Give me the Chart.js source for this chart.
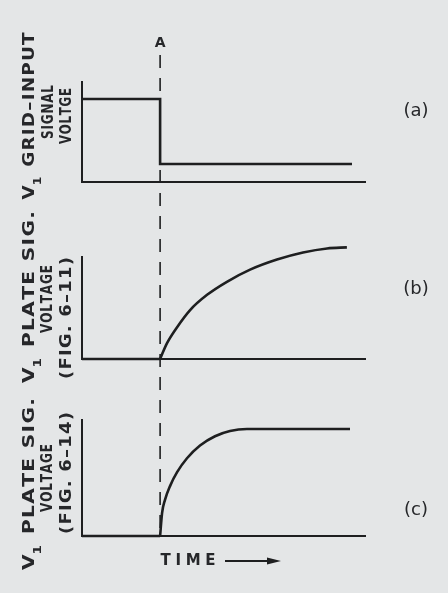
<!DOCTYPE html>
<html><head><meta charset="utf-8">
<script src="https://cdn.jsdelivr.net/npm/chart.js@4"></script>
<style>
html,body{margin:0;padding:0;background:#e4e6e7;width:448px;height:593px;overflow:hidden}
canvas{position:absolute;left:0;top:0}
</style></head><body>
<canvas id="ca" width="448" height="593"></canvas>
<canvas id="cb" width="448" height="593"></canvas>
<canvas id="cc" width="448" height="593"></canvas>
<script>
// ---- data (arbitrary time units 0..10, normalised voltage 0..1) ----
const timeA = 2.76;
const inputTime  = [0, 2.76, 2.76, 9.54];
const inputVolts = [0.83, 0.83, 0.18, 0.18];
const plateBFlatTime  = [0, 2.76];
const plateBFlatVolts = [0, 0];
const plateBTime  = [2.76, 3.0, 3.36, 3.82, 4.42, 5.12, 5.94, 6.89, 7.81, 8.66, 9.36];
const plateBVolts = [0, 0.153, 0.312, 0.48, 0.629, 0.757, 0.876, 0.975, 1.044, 1.084, 1.094];
const plateCFlatTime  = [0, 2.76];
const plateCFlatVolts = [0, 0];
const plateCTime  = [2.76, 2.83, 2.93, 3.11, 3.36, 3.71, 4.17, 4.70, 5.23, 5.83, 9.47];
const plateCVolts = [0, 0.20, 0.31, 0.43, 0.55, 0.67, 0.78, 0.86, 0.905, 0.922, 0.922];

// ---- texts ----
const yLabelsA = ["V\u2081 GRID\u2013INPUT", "SIGNAL", "VOLTGE"];
const yLabelsB = ["V\u2081 PLATE SIG.", "VOLTAGE", "(FIG. 6\u201311)"];
const yLabelsC = ["V\u2081 PLATE SIG.", "VOLTAGE", "(FIG. 6\u201314)"];
const panelTags = ["(a)", "(b)", "(c)"];
const markerLabel = "A";
const xAxisLabel = "TIME";

// ---- style / layout ----
const INK = '#1e1f20';
const TEXT = '#26272a';
const LABEL_FONT = 'bold 15px "DejaVu Sans", sans-serif';
const SUB_FONT = 'bold 10px "DejaVu Sans", sans-serif';
const DASH_TOP = 55, DASH_BOTTOM = 536;

function pts(xs, ys){ return xs.map((x,i)=>({x:x, y:ys[i]})); }

// draws text centred at (cx,cy), fitted to length len; mode 'stretch' scales glyphs, 'space' spreads them
function drawFitted(ctx, text, cx, cy, len, rotate, mode, font){
  ctx.save();
  ctx.translate(cx, cy);
  if (rotate) ctx.rotate(-Math.PI/2);
  ctx.fillStyle = TEXT;
  ctx.textBaseline = 'middle';
  ctx.textAlign = 'left';
  const f = font || LABEL_FONT;
  const chars = [...text];
  const w = chars.map(c => {
    if (c === '\u2081'){ ctx.font = SUB_FONT; return ctx.measureText('1').width; }
    ctx.font = f; return ctx.measureText(c).width;
  });
  const nat = w.reduce((a,b)=>a+b,0);
  const n = chars.length;
  let sp, sx;
  if (mode === 'space'){ sp = (len - nat)/(n-1); sx = 1; }
  else { sp = 1.0; sx = len / (nat + sp*(n-1)); }
  ctx.scale(sx, 1);
  let x = -len/2/sx;
  chars.forEach((c,i)=>{
    if (c === '\u2081'){ ctx.font = SUB_FONT; ctx.fillText('1', x - 1, 8); }
    else { ctx.font = f; ctx.fillText(c, x, 0); }
    x += w[i] + sp;
  });
  ctx.restore();
}

const figurePlugin = {
  id: 'figure',
  beforeDatasetsDraw(chart){
    const o = chart.options.plugins.figure;
    if (!o.marker) return;
    const ctx = chart.ctx;
    const x = chart.scales.x.getPixelForValue(timeA);
    ctx.save();
    ctx.strokeStyle = INK;
    ctx.lineWidth = 1.6;
    ctx.setLineDash([13, 10]);
    ctx.beginPath(); ctx.moveTo(x, DASH_TOP); ctx.lineTo(x, DASH_BOTTOM); ctx.stroke();
    ctx.restore();
  },
  afterDraw(chart){
    const o = chart.options.plugins.figure;
    const ctx = chart.ctx;
    o.labels.forEach((t,i)=>{
      const L = o.layout[i];
      drawFitted(ctx, t, L[0], L[1], L[2], true, 'stretch');
    });
    ctx.save();
    ctx.fillStyle = TEXT;
    ctx.font = '18px "DejaVu Sans", sans-serif';
    ctx.textAlign = 'center'; ctx.textBaseline = 'middle';
    ctx.fillText(o.tag, 416, o.tagY);
    ctx.restore();
    if (o.marker){
      ctx.save();
      ctx.fillStyle = TEXT;
      ctx.font = 'bold 14px "DejaVu Sans", sans-serif';
      ctx.textAlign = 'center'; ctx.textBaseline = 'middle';
      ctx.fillText(markerLabel, chart.scales.x.getPixelForValue(timeA), 43);
      ctx.restore();
    }
    if (o.timeLabel){
      const yy = 561;
      drawFitted(ctx, xAxisLabel, 188, yy, 55, false, 'space', 'bold 15px "DejaVu Sans", sans-serif');
      ctx.save();
      ctx.strokeStyle = INK; ctx.fillStyle = INK; ctx.lineWidth = 1.8;
      ctx.beginPath(); ctx.moveTo(225, yy); ctx.lineTo(270, yy); ctx.stroke();
      ctx.beginPath(); ctx.moveTo(281, yy); ctx.lineTo(267, yy-3.5); ctx.lineTo(267, yy+3.5); ctx.closePath(); ctx.fill();
      ctx.restore();
    }
  }
};

function axisCfg(max){
  return {
    type: 'linear', min: 0, max: max, display: true,
    ticks: {display: false},
    grid: {display: false, drawTicks: false},
    border: {display: true, color: INK, width: 2}
  };
}

function lineDs(data, curved){
  return {
    data: data, borderColor: INK, borderWidth: 2.6, pointRadius: 0,
    tension: curved ? 0.4 : 0, cubicInterpolationMode: curved ? 'monotone' : 'default',
    clip: false, fill: false
  };
}

function makeChart(id, datasets, pad, fig){
  return new Chart(document.getElementById(id), {
    type: 'line',
    data: {datasets: datasets},
    options: {
      responsive: false, animation: false, events: [],
      layout: {padding: pad},
      scales: {x: axisCfg(10), y: axisCfg(1)},
      plugins: {legend: {display: false}, tooltip: {enabled: false}, figure: fig}
    },
    plugins: [figurePlugin]
  });
}

makeChart('ca', [lineDs(pts(inputTime, inputVolts), false)],
  {left: 82, right: 83, top: 82, bottom: 411},
  {labels: yLabelsA, layout: [[30,116,167],[49,112,54],[67,116,56]], tag: panelTags[0], tagY: 111, marker: true});

makeChart('cb', [lineDs(pts(plateBFlatTime, plateBFlatVolts), false), lineDs(pts(plateBTime, plateBVolts), true)],
  {left: 82, right: 83, top: 257, bottom: 234},
  {labels: yLabelsB, layout: [[30,297,172],[48,299,68],[67,318,122]], tag: panelTags[1], tagY: 289});

makeChart('cc', [lineDs(pts(plateCFlatTime, plateCFlatVolts), false), lineDs(pts(plateCTime, plateCVolts), true)],
  {left: 82, right: 83, top: 420, bottom: 57},
  {labels: yLabelsC, layout: [[30,484,172],[48,478,68],[67,473,122]], tag: panelTags[2], tagY: 510, timeLabel: true});
</script>
</body></html>
